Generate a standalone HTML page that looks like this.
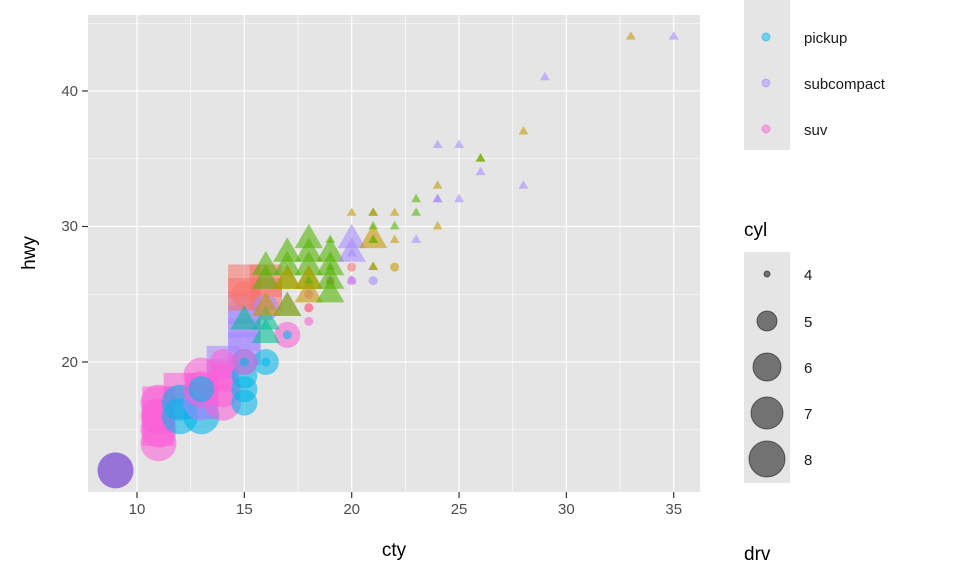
<!DOCTYPE html>
<html><head><meta charset="utf-8"><style>
html,body{margin:0;padding:0;background:#fff;}
svg{display:block;font-family:"Liberation Sans",sans-serif;}
</style></head><body>
<svg id="s" width="960" height="576" xmlns="http://www.w3.org/2000/svg">
<rect x="0" y="0" width="960" height="576" fill="#fff"/>
<rect x="88" y="15" width="612" height="477" fill="#e5e5e5"/>
<g id="grid"></g>
<g id="pts"></g>
<g font-size="15" fill="#4d4d4d" text-anchor="end">
<text x="78" y="96">40</text><text x="78" y="231">30</text><text x="78" y="367">20</text>
</g>
<g stroke="#333" stroke-width="1.2">
<line x1="82" y1="91" x2="88" y2="91"/><line x1="82" y1="226.5" x2="88" y2="226.5"/><line x1="82" y1="362" x2="88" y2="362"/>
</g>
<g id="xt" font-size="15" fill="#4d4d4d" text-anchor="middle"></g>
<text x="394" y="556" font-size="19" text-anchor="middle" fill="#000">cty</text>
<text transform="translate(35,253) rotate(-90)" font-size="19" text-anchor="middle" fill="#000">hwy</text>
<rect x="744" y="0" width="46" height="150" fill="#e5e5e5"/>
<circle cx="766" cy="37" r="4" fill="#00B6EB" fill-opacity="0.5" stroke="#00B6EB" stroke-opacity="0.5"/>
<circle cx="766" cy="83" r="4" fill="#A58AFF" fill-opacity="0.5" stroke="#A58AFF" stroke-opacity="0.5"/>
<circle cx="766" cy="129" r="4" fill="#FB61D7" fill-opacity="0.5" stroke="#FB61D7" stroke-opacity="0.5"/>
<g font-size="15" fill="#1a1a1a">
<text x="804" y="43">pickup</text><text x="804" y="89">subcompact</text><text x="804" y="135">suv</text>
</g>
<text x="744" y="236" font-size="19" fill="#000">cyl</text>
<rect x="744" y="252" width="46" height="231" fill="#e5e5e5"/>
<g fill="#000" fill-opacity="0.5" stroke="#000" stroke-opacity="0.5">
<circle cx="767" cy="274" r="3"/><circle cx="767" cy="321" r="10"/><circle cx="767" cy="367" r="14"/><circle cx="767" cy="413" r="16"/><circle cx="767" cy="459" r="18"/>
</g>
<g font-size="15" fill="#1a1a1a">
<text x="804" y="280">4</text><text x="804" y="327">5</text><text x="804" y="373">6</text><text x="804" y="419">7</text><text x="804" y="465">8</text>
</g>
<text x="744" y="560" font-size="19" fill="#000">drv</text>
</svg>
<script>
var X=function(v){return 137+(v-10)*21.47;}, Y=function(v){return 362-(v-20)*13.55;};
var g=document.getElementById('grid'),h='';
[12.5,17.5,22.5,27.5,32.5].forEach(function(v){h+='<line x1="'+X(v)+'" x2="'+X(v)+'" y1="15" y2="492" stroke="#fff" stroke-width="0.6"/>';});
[15,25,35,45].forEach(function(v){h+='<line y1="'+Y(v)+'" y2="'+Y(v)+'" x1="88" x2="700" stroke="#fff" stroke-width="0.6"/>';});
[10,15,20,25,30,35].forEach(function(v){h+='<line x1="'+X(v)+'" x2="'+X(v)+'" y1="15" y2="492" stroke="#fff" stroke-width="1.2"/>';});
[20,30,40].forEach(function(v){h+='<line y1="'+Y(v)+'" y2="'+Y(v)+'" x1="88" x2="700" stroke="#fff" stroke-width="1.2"/>';});
g.innerHTML=h;
var xt='';[10,15,20,25,30,35].forEach(function(v){xt+='<line x1="'+X(v)+'" x2="'+X(v)+'" y1="492" y2="498" stroke="#333" stroke-width="1.2"/><text x="'+X(v)+'" y="514">'+v+'</text>';});
document.getElementById('xt').innerHTML=xt;
var C={T:'#F8766D',C:'#C49A00',M:'#53B400',V:'#00C094',P:'#00B6EB',S:'#A58AFF',U:'#FB61D7',Q:'#8A5FD6'};
var R={4:4.5,5:9,6:13,8:18};
var d=[
[11,15,8,'r','U'],[11,16,8,'r','U'],[11,17,8,'r','U'],[12,18,8,'r','U'],[13,18,8,'r','U'],[14,19,8,'r','U'],[12,17,8,'r','U'],[13,17,8,'r','U'],
[14,20,8,'r','S'],[15,21,8,'r','S'],[15,22,8,'r','S'],[15,23,8,'r','S'],[15,24,8,'r','S'],[15,25,8,'r','T'],[16,26,8,'r','T'],[15,26,8,'r','T'],[16,25,8,'r','T'],
[9,12,8,'4','Q'],[11,14,8,'4','U'],[11,15,8,'4','U'],[11,16,8,'4','U'],[11,17,8,'4','U'],[12,16,8,'4','P'],[13,16,8,'4','P'],[12,17,8,'4','P'],[13,17,8,'4','S'],
[13,18,8,'4','U'],[13,19,8,'4','U'],[14,17,8,'4','U'],[14,18,8,'4','U'],[14,19,6,'4','U'],[13,18,6,'4','P'],
[15,17,6,'4','P'],[15,18,6,'4','P'],[15,19,6,'4','P'],[15,20,6,'4','P'],[16,20,6,'4','P'],[15,20,6,'4','U'],[14,20,6,'4','U'],[17,22,6,'4','U'],
[15,25,6,'4','T'],[16,24,6,'4','S'],
[15,20,4,'4','P'],[16,20,4,'4','P'],[17,22,4,'4','P'],[18,23,4,'4','U'],[18,24,4,'4','U'],[18,25,4,'4','U'],[19,26,4,'4','U'],[20,26,4,'4','U'],[21,26,4,'4','S'],[20,27,4,'4','T'],[22,27,4,'4','C'],[18,24,4,'4','T'],
[16,22,6,'f','V'],[15,23,6,'f','V'],[16,23,6,'f','V'],[17,24,6,'f','V'],[16,24,6,'f','C'],[17,24,6,'f','C'],[18,25,6,'f','C'],[16,26,6,'f','M'],[17,26,6,'f','M'],
[18,26,6,'f','M'],[19,26,6,'f','M'],[18,27,6,'f','M'],[17,27,6,'f','M'],[19,27,6,'f','M'],[18,28,6,'f','M'],[17,28,6,'f','M'],[19,28,6,'f','M'],[18,29,6,'f','M'],[16,27,6,'f','M'],
[19,25,6,'f','M'],[17,26,6,'f','C'],[18,26,6,'f','C'],[20,28,6,'f','S'],[20,29,6,'f','S'],[21,29,6,'f','C'],
[33,44,4,'f','C'],[35,44,4,'f','S'],[29,41,4,'f','S'],[28,37,4,'f','C'],[24,36,4,'f','S'],[25,36,4,'f','S'],[26,35,4,'f','C'],[26,35,4,'f','M'],[26,34,4,'f','S'],
[24,33,4,'f','C'],[28,33,4,'f','S'],[23,32,4,'f','M'],[24,32,4,'f','S'],[24,32,4,'f','S'],[25,32,4,'f','S'],[23,31,4,'f','M'],
[20,31,4,'f','C'],[21,31,4,'f','M'],[21,31,4,'f','C'],[22,31,4,'f','C'],[21,30,4,'f','M'],[22,30,4,'f','M'],[24,30,4,'f','C'],
[21,29,4,'f','C'],[22,29,4,'f','C'],[23,29,4,'f','S'],[21,29,4,'f','M'],[21,27,4,'f','M'],[20,28,4,'f','S'],[19,29,4,'f','M'],[19,26,4,'f','M'],[20,26,4,'f','S'],[21,27,4,'f','C'],[18,26,4,'f','M'],[19,27,4,'f','M']
];
var p='';
d.forEach(function(a){var x=X(a[0]),y=Y(a[1]),r=R[a[2]],c=C[a[4]];var st='fill="'+c+'" fill-opacity="'+(a[4]=='Q'?0.85:0.58)+'"';
if(a[3]=='4')p+='<circle cx="'+x+'" cy="'+y+'" r="'+r+'" '+st+'/>';
else if(a[3]=='r'){var s=r*0.9;p+='<rect x="'+(x-s)+'" y="'+(y-s)+'" width="'+2*s+'" height="'+2*s+'" '+st+'/>';}
else{var t=r*1.25;p+='<polygon points="'+x+','+(y-t)+' '+(x-t*0.87)+','+(y+t*0.5)+' '+(x+t*0.87)+','+(y+t*0.5)+'" '+st+'/>';}
});
document.getElementById('pts').innerHTML=p;
</script>
</body></html>
